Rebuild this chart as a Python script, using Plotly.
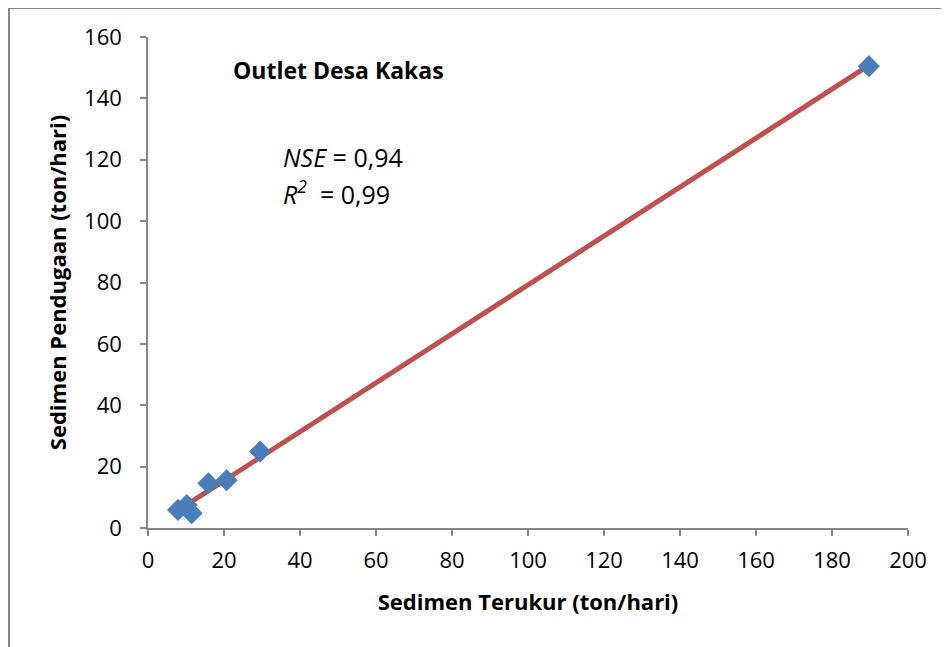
import numpy as np
import plotly.graph_objects as go

# Data
measured = [7.9, 10.2, 11.5, 15.9, 20.7, 29.5, 189.7]     # Sedimen Terukur (ton/hari)
estimated = [5.9, 7.5, 4.8, 14.6, 15.6, 24.9, 150.5]      # Sedimen Pendugaan (ton/hari)
x_ticks = [0, 20, 40, 60, 80, 100, 120, 140, 160, 180, 200]
y_ticks = [0, 20, 40, 60, 80, 100, 120, 140, 160]

# linear trendline over the data range
slope, intercept = np.polyfit(measured, estimated, 1)
tx = np.array([min(measured), max(measured)])
ty = slope * tx + intercept

W, H = 949, 647
OFF = 8  # page body margin offset
L, R, T, B = 148 - OFF, 949 - 908 + OFF, 37 - OFF, 647 - 528 + OFF
pw, ph = W - L - R, H - T - B

def px(x):  # screen pixel -> paper
    return (x - OFF - L) / pw

def py(y):
    return (H - B - (y - OFF)) / ph

FONT = "Open Sans"
AX = "#868686"

fig = go.Figure()
fig.add_trace(go.Scatter(x=tx, y=ty, mode="lines",
                         line=dict(color="#C0504D", width=5), hoverinfo="skip"))
fig.add_trace(go.Scatter(x=measured, y=estimated, mode="markers",
                         marker=dict(symbol="diamond", size=17, color="#4A7EBB",
                                     line=dict(width=0))))

fig.update_layout(
    width=W, height=H,
    margin=dict(l=L, r=R, t=T, b=B),
    paper_bgcolor="white", plot_bgcolor="white",
    showlegend=False,
    font=dict(family=FONT, size=22, color="black"),
    xaxis=dict(range=[0, 200], tickvals=x_ticks, showgrid=False, zeroline=False,
               showline=True, linecolor=AX, linewidth=1.5,
               ticks="outside", ticklen=6, tickcolor=AX, tickwidth=1.5,
               ticklabelstandoff=6,
               title=dict(text="<b>Sedimen Terukur (ton/hari)</b>", standoff=21,
                          font=dict(family=FONT, size=22))),
    yaxis=dict(range=[0, 160], tickvals=y_ticks, showgrid=False, zeroline=False,
               showline=True, linecolor=AX, linewidth=1.5,
               ticks="outside", ticklen=6, tickcolor=AX, tickwidth=1.5,
               ticklabelstandoff=14,
               title=dict(text="<b>Sedimen Pendugaan (ton/hari)</b>", standoff=11,
                          font=dict(family=FONT, size=22))),
    shapes=[dict(type="rect", xref="paper", yref="paper",
                 x0=px(9), x1=px(1000), y0=py(700), y1=py(8),
                 line=dict(color=AX, width=2), fillcolor="rgba(0,0,0,0)",
                 layer="below")],
    annotations=[
        dict(text="<b>Outlet Desa Kakas</b>", xref="paper", yref="paper",
             x=px(231), y=py(70), xanchor="left", yanchor="middle",
             showarrow=False, font=dict(family=FONT, size=23)),
        dict(text="<i>NSE</i> = 0,94", xref="paper", yref="paper",
             x=px(281), y=py(157), xanchor="left", yanchor="middle",
             showarrow=False, font=dict(family=FONT, size=25)),
        dict(text="<i>R<sup>2</sup></i>  = 0,99", xref="paper", yref="paper",
             x=px(281), y=py(192), xanchor="left", yanchor="middle",
             showarrow=False, font=dict(family=FONT, size=25)),
    ],
)

fig.write_html("out.html")
